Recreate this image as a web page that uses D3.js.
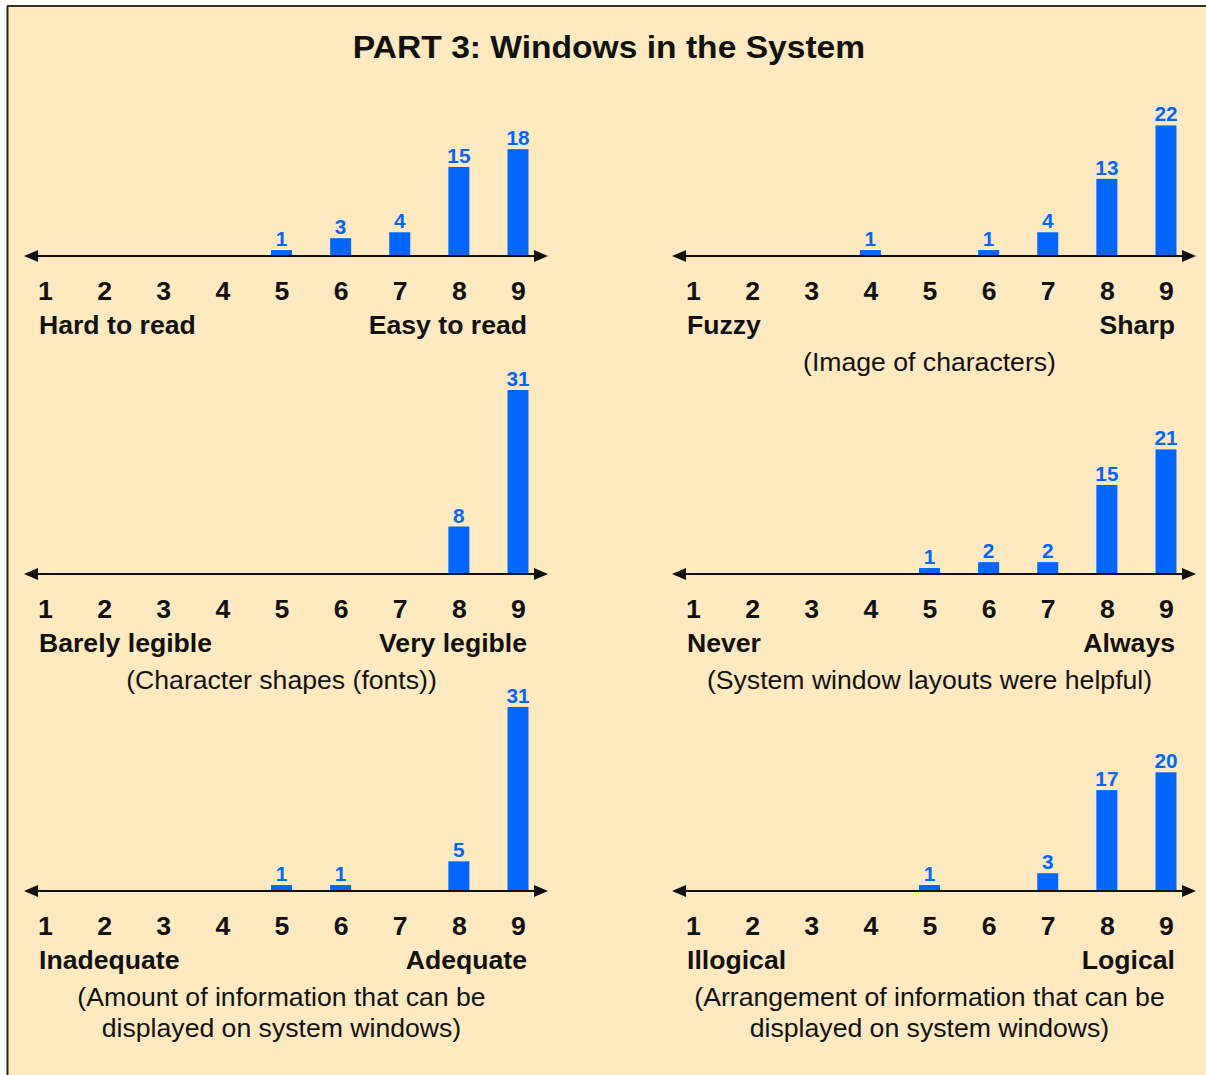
<!DOCTYPE html>
<html>
<head>
<meta charset="utf-8">
<script src="https://cdn.jsdelivr.net/npm/d3@7"></script>
<style>
  html, body { margin: 0; padding: 0; background: #ffffff; }
  svg { display: block; }
  text { font-family: "Liberation Sans", Arial, Helvetica, sans-serif; }
</style>
</head>
<body>
<svg id="chart" width="1206" height="1075"></svg>
<script>
// Rating scale shared by every question
const ratings = [1, 2, 3, 4, 5, 6, 7, 8, 9];

// Response counts per rating, one array per question
const readCounts     = [0, 0, 0, 0, 1, 3, 4, 15, 18];
const sharpCounts    = [0, 0, 0, 1, 0, 1, 4, 13, 22];
const legibleCounts  = [0, 0, 0, 0, 0, 0, 0, 8, 31];
const layoutCounts   = [0, 0, 0, 0, 1, 2, 2, 15, 21];
const amountCounts   = [0, 0, 0, 0, 1, 1, 0, 5, 31];
const arrangeCounts  = [0, 0, 0, 0, 1, 0, 3, 17, 20];

// Scale end labels (low end, high end)
const readEnds    = ["Hard to read", "Easy to read"];
const sharpEnds   = ["Fuzzy", "Sharp"];
const legibleEnds = ["Barely legible", "Very legible"];
const layoutEnds  = ["Never", "Always"];
const amountEnds  = ["Inadequate", "Adequate"];
const arrangeEnds = ["Illogical", "Logical"];

// Captions under each scale
const readCaption    = [];
const sharpCaption   = ["(Image of characters)"];
const legibleCaption = ["(Character shapes (fonts))"];
const layoutCaption  = ["(System window layouts were helpful)"];
const amountCaption  = ["(Amount of information that can be", "displayed on system windows)"];
const arrangeCaption = ["(Arrangement of information that can be", "displayed on system windows)"];

const title = "PART 3: Windows in the System";

const panels = [
  { counts: readCounts,    ends: readEnds,    caption: readCaption,    col: 0, row: 0 },
  { counts: sharpCounts,   ends: sharpEnds,   caption: sharpCaption,   col: 1, row: 0 },
  { counts: legibleCounts, ends: legibleEnds, caption: legibleCaption, col: 0, row: 1 },
  { counts: layoutCounts,  ends: layoutEnds,  caption: layoutCaption,  col: 1, row: 1 },
  { counts: amountCounts,  ends: amountEnds,  caption: amountCaption,  col: 0, row: 2 },
  { counts: arrangeCounts, ends: arrangeEnds, caption: arrangeCaption, col: 1, row: 2 }
];

const BG = "#FFE9C0";
const BLUE = "#0066FF";
const INK = "#111111";
const STRETCH = 1.065; // slightly widened lettering

const svg = d3.select("#chart");

// Text placed at (x, y) and widened horizontally around its anchor
function label(parent, x, y, str, size, opts = {}) {
  return parent.append("text")
    .attr("transform", `translate(${x},${y}) scale(${opts.stretch || STRETCH},1)`)
    .attr("text-anchor", opts.anchor || "start")
    .attr("font-size", size)
    .attr("font-weight", opts.weight || "normal")
    .attr("fill", opts.fill || INK)
    .text(str);
}

// Cream card with a dark edge along its top and left sides
svg.append("rect").attr("x", 7).attr("y", 6).attr("width", 1199).attr("height", 1069).attr("fill", BG);
svg.append("line").attr("x1", 7).attr("x2", 1206).attr("y1", 6).attr("y2", 6)
  .attr("stroke", "#333").attr("stroke-width", 2);
svg.append("line").attr("x1", 7.5).attr("x2", 7.5).attr("y1", 6).attr("y2", 1075)
  .attr("stroke", "#222").attr("stroke-width", 2);

label(svg, 609, 58, title, 32, { anchor: "middle", weight: "bold", stretch: 1.05 });

const colOffset = [0, 648];
const axisRows = [256, 574, 891];
const valueMax = 31;
const valueSpan = 184; // pixels that the largest count reaches above the axis

panels.forEach(p => {
  const dx = colOffset[p.col];
  const axisY = axisRows[p.row];
  const g = svg.append("g");

  const x = d3.scalePoint().domain(ratings).range([45 + dx, 518 + dx]);
  const y = d3.scaleLinear().domain([0, valueMax]).range([axisY, axisY - valueSpan]);
  const barW = 21;

  const data = ratings.map((r, i) => ({ r, v: p.counts[i] })).filter(d => d.v > 0);

  g.selectAll("rect.bar").data(data).enter().append("rect")
    .attr("class", "bar")
    .attr("x", d => x(d.r) - barW / 2)
    .attr("width", barW)
    .attr("y", d => y(d.v))
    .attr("height", d => y(0) - y(d.v))
    .attr("fill", BLUE);

  data.forEach(d => {
    label(g, x(d.r), y(d.v) - 4, d.v, 19.5, { anchor: "middle", weight: "bold", fill: BLUE });
  });

  // Double-headed number line
  const left = 24 + dx, right = 548 + dx, head = 14, half = 6;
  g.append("line")
    .attr("x1", left + head - 2).attr("x2", right - head + 2)
    .attr("y1", axisY).attr("y2", axisY)
    .attr("stroke", INK).attr("stroke-width", 2);
  g.append("path")
    .attr("d", `M${left},${axisY} L${left + head},${axisY - half} L${left + head},${axisY + half} Z`)
    .attr("fill", INK);
  g.append("path")
    .attr("d", `M${right},${axisY} L${right - head},${axisY - half} L${right - head},${axisY + half} Z`)
    .attr("fill", INK);

  // Rating numbers beneath the line
  const ax = g.append("g")
    .attr("transform", `translate(0,${axisY + 23})`)
    .call(d3.axisBottom(x).tickSize(0).tickPadding(0));
  ax.select(".domain").remove();
  ax.selectAll("text")
    .attr("font-family", "'Liberation Sans', Arial, sans-serif")
    .attr("font-size", 25).attr("font-weight", "bold").attr("fill", INK)
    .attr("dy", "0.85em")
    .attr("transform", `scale(${STRETCH},1)`);

  label(g, 39 + dx, axisY + 78, p.ends[0], 25, { weight: "bold" });
  label(g, 527 + dx, axisY + 78, p.ends[1], 25, { weight: "bold", anchor: "end" });

  p.caption.forEach((line, i) => {
    label(g, x(5), axisY + 115 + i * 31, line, 25, { anchor: "middle" });
  });
});
</script>
</body>
</html>
